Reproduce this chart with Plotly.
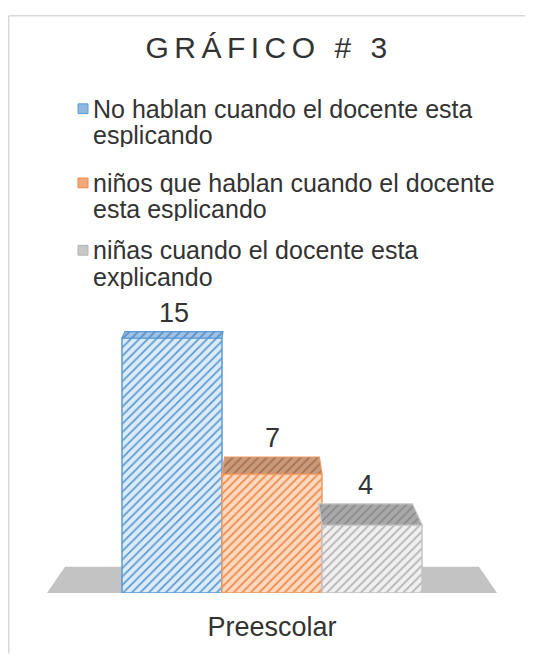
import plotly.graph_objects as go

# ---------------- data ----------------
categories = ["Preescolar"]
series_names = [
    "No hablan cuando el docente esta esplicando",
    "niños que hablan cuando el docente esta esplicando",
    "niñas cuando el docente esta explicando",
]
legend_lines = [
    ["No hablan cuando el docente esta", "esplicando"],
    ["niños que hablan cuando el docente", "esta esplicando"],
    ["niñas cuando el docente esta", "explicando"],
]
values = [15, 7, 4]
title_text = "GRÁFICO # 3"

# ---------------- style ----------------
front_bg = ["#dcebf9", "#fcd9c0", "#f0f0f0"]
front_fg = ["#5b9bd5", "#ee8a4a", "#b3b3b3"]
edge_col = ["#5b9bd5", "#f29a5e", "#c4c4c4"]
top_bg = ["#9fc2e6", "#c99a7c", "#a9a9a9"]
top_fg = ["#5b8fc4", "#a8704e", "#8a8a8a"]
swatch_col = ["#8fb9e3", "#f4a878", "#c8c8c8"]
text_col = "#333333"
FONT = "Liberation Sans, Arial, sans-serif"

# The page body has an 8px margin; the figure is sized to fit the window
# and every page-pixel position below is converted with OFF.
OFF = 8
W, H = 533 - 2 * OFF, 662 - 2 * OFF
ML, MR, MT, MB = 47 - OFF, W - (497 - OFF), 304 - OFF, H - (600 - OFF)
PW, PH = W - ML - MR, H - MT - MB
X_RANGE = [-0.75, 0.75]
Y_RANGE = [0, 17]
PX_PER_Y = PH / (Y_RANGE[1] - Y_RANGE[0])

FLOOR_DEPTH = 27 / PX_PER_Y      # depth of the floor in y units
EYE_V = 19.76                    # value at which top faces vanish
SHRINK = 0.08                    # horizontal convergence at full depth


def depth(v):
    return FLOOR_DEPTH * (1 - v / EYE_V)


def shrink(d):
    return 1 - SHRINK * d / FLOOR_DEPTH


def px_x(px):  # page pixel -> paper
    return (px - OFF - ML) / PW


def px_y(py):  # page pixel -> paper
    return (H - MB - (py - OFF)) / PH


n = len(values)
bw = 1.0 / n
fig = go.Figure()

# front faces (bars)
for i, (name, v) in enumerate(zip(series_names, values)):
    fig.add_trace(go.Bar(
        x=[0], y=[v], name=name,
        offset=-0.5 + i * bw, width=bw,
        marker=dict(
            color=front_bg[i],
            line=dict(color=edge_col[i], width=1.5),
            pattern=dict(shape="/", fgcolor=front_fg[i], bgcolor=front_bg[i],
                         size=6, solidity=0.3, fillmode="replace"),
        ),
        showlegend=False, hoverinfo="skip",
    ))

# top faces (3D effect) + value labels
annotations = []
for i, v in enumerate(values):
    x0 = -0.5 + i * bw
    x1 = x0 + bw
    d = depth(v)
    s = shrink(d)
    xs = [x0, x1, x1 * s, x0 * s, x0]
    ys = [v, v, v + d, v + d, v]
    fig.add_trace(go.Scatter(
        x=xs, y=ys, mode="lines", fill="toself",
        fillcolor=top_bg[i],
        fillpattern=dict(shape="/", fgcolor=top_fg[i], bgcolor=top_bg[i],
                         size=6, solidity=0.3, fillmode="replace"),
        line=dict(color=edge_col[i], width=1.2),
        showlegend=False, hoverinfo="skip",
    ))
    annotations.append(dict(
        x=(x0 + x1) / 2 * s, y=v + d, xref="x", yref="y",
        text=str(v), showarrow=False, yanchor="middle", yshift=19,
        font=dict(size=27, color=text_col, family=FONT),
    ))

# legend (swatch + text lines)
legend_rows = [(104, 131), (180, 207), (249, 276)]
LEG_TEXT_X = 92
shapes = []
for i, lines in enumerate(legend_lines):
    for line, yc in zip(lines, legend_rows[i]):
        annotations.append(dict(
            x=px_x(LEG_TEXT_X), y=px_y(yc), xref="paper", yref="paper",
            text=line, showarrow=False, xanchor="left", yanchor="middle",
            height=24, borderpad=0, valign="middle",
            font=dict(size=25, color=text_col, family=FONT),
        ))
    yc = legend_rows[i][0]
    shapes.append(dict(
        type="rect", xref="paper", yref="paper",
        x0=px_x(78), x1=px_x(88), y0=px_y(yc + 5), y1=px_y(yc - 5),
        fillcolor=swatch_col[i], line=dict(color=front_fg[i], width=1),
    ))

# floor
fl = X_RANGE[1]
ft = fl * shrink(FLOOR_DEPTH)
shapes.append(dict(
    type="path", xref="x", yref="y", layer="below",
    path=f"M {-fl},0 L {fl},0 L {ft},{FLOOR_DEPTH} L {-ft},{FLOOR_DEPTH} Z",
    fillcolor="#c3c3c3", line=dict(width=0),
))

# chart frame: left and top edges
frame_line = dict(color="#d9d9d9", width=1.5)
shapes.append(dict(type="line", xref="paper", yref="paper",
                   x0=px_x(OFF + 0.75), x1=px_x(OFF + 0.75),
                   y0=px_y(OFF + 0.75), y1=px_y(662), line=frame_line))
shapes.append(dict(type="line", xref="paper", yref="paper",
                   x0=px_x(OFF + 0.75), x1=px_x(533),
                   y0=px_y(OFF + 0.75), y1=px_y(OFF + 0.75), line=frame_line))

fig.update_layout(
    width=W, height=H,
    margin=dict(l=ML, r=MR, t=MT, b=MB, pad=0),
    paper_bgcolor="white", plot_bgcolor="white",
    barmode="overlay",
    showlegend=False,
    hovermode=False,
    title=dict(
        text=f'<span style="letter-spacing:5.5px">{title_text}</span>',
        x=(269 - OFF) / W, xref="container", xanchor="center",
        y=1 - (47 - OFF) / H, yref="container", yanchor="middle",
        font=dict(size=30, color=text_col, family=FONT),
    ),
    xaxis=dict(
        range=X_RANGE, tickvals=[0], ticktext=categories,
        showgrid=False, zeroline=False, showline=False, ticks="",
        tickfont=dict(size=27, color=text_col, family=FONT),
        ticklabelstandoff=15, fixedrange=True,
    ),
    yaxis=dict(
        range=Y_RANGE, visible=False, showgrid=False, zeroline=False,
        fixedrange=True,
    ),
    annotations=annotations,
    shapes=shapes,
)

fig.write_html("out.html")
